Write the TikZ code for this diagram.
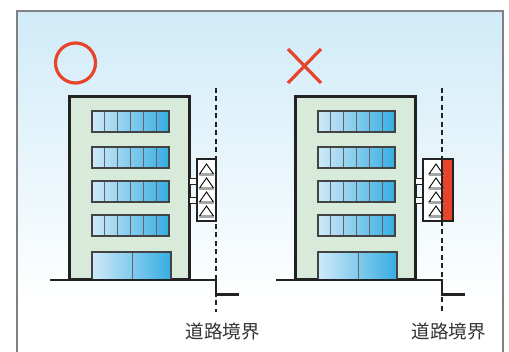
\documentclass[tikz,border=0pt]{standalone}
\usepackage{fontspec}
\newfontfamily\jpfont{Noto Sans CJK JP}
\definecolor{skytop}{HTML}{D0EBF8}
\definecolor{framegray}{HTML}{808080}
\definecolor{wallgreen}{HTML}{D8EBDB}
\definecolor{inkdark}{HTML}{222222}
\definecolor{winlight}{HTML}{CFE9F9}
\definecolor{windeep}{HTML}{36ADE2}
\definecolor{markred}{HTML}{E8432B}
\definecolor{labelgray}{HTML}{333333}
\tikzset{
  wall/.style={fill=wallgreen, draw=inkdark, line width=3pt, line join=miter},
  pane/.style={draw=inkdark!85, line width=1.6pt},
  panediv/.style={draw=inkdark!70, line width=1pt},
  ground/.style={draw=inkdark, line width=2.6pt, line join=miter},
  boundary/.style={draw=inkdark, line width=1.4pt, dash pattern=on 5pt off 3.5pt},
  signbox/.style={fill=white, draw=inkdark, line width=1.3pt},
  bracket/.style={fill=white, draw=inkdark, line width=1pt},
  arrowmark/.style={draw=black, line width=0.9pt, line join=miter},
  markstroke/.style={draw=markred, line width=3.2pt},
  caption/.style={font=\jpfont\fontsize{18.5}{20}\selectfont, text=labelgray, inner sep=0pt},
  % one window band of six panes
  band/.pic={
    \shade[left color=winlight, right color=windeep] (0,0) rectangle (77,21);
    \foreach \k in {1,...,5} \draw[panediv] ({\k*77/6},0) -- ({\k*77/6},21);
    \draw[pane] (0,0) rectangle (77,21);
  },
  % the building with its road-side sign frame
  building/.pic={
    \draw[wall] (69,97) rectangle (189,280);
    \foreach \yy in {111,147,181,215} \pic at (92,\yy) {band};
    \shade[left color=winlight, right color=windeep] (92,252) rectangle (171,280);
    \draw[panediv] (132,252) -- (132,280);
    \draw[pane] (92,280) -- (92,252) -- (171,252) -- (171,280);
    \draw[bracket] (189,179) rectangle (197,185);
    \draw[bracket] (189,198) rectangle (197,204);
    \draw[signbox] (197,159) rectangle (216,221);
  },
  % four triangle marks on a sign, apex x given by #1
  marks/.pic={
    \foreach \ty in {164,178,192,206}{
      \draw[gray!70, line width=1.2pt] (-7.5,\ty+11.2) -- (7.5,\ty+11.2);
      \draw[arrowmark] (-7,\ty+10) -- (0,\ty) -- (7,\ty+10) -- cycle;
    }
  }
}
\begin{document}
\begin{tikzpicture}[x=1pt,y=-1pt]
\useasboundingbox (0,0) rectangle (509,352);
% sky backdrop and frame
\shade[top color=skytop, bottom color=white] (17,11) rectangle (503,305);
\draw[framegray, line width=1.4pt] (17,352) -- (17,11) -- (503,11) -- (503,352);

% verdicts
\draw[markstroke] (75.5,63) circle (20);
\draw[markstroke] (288,49) -- (321,83);
\draw[markstroke] (321,49) -- (288,83);

% left: sign kept within the lot
\pic at (0,0) {building};
\pic at (206.5,0) {marks};
\draw[boundary] (216,88) -- (216,312);
\draw[ground] (50,280) -- (216,280) -- (216,294.5) -- (239,294.5);
\node[caption] (lblA) at (222.5,332) {道路境界};

% right: sign face protruding over the boundary
\pic at (226,0) {building};
\fill[markred] (442,159) rectangle (453,221);
\draw[inkdark, line width=1.3pt] (442,159) rectangle (453,221);
\pic at (436,0) {marks};
\draw[inkdark, line width=2.2pt] (442,159) -- (442,221);
\draw[boundary] (442,88) -- (442,159);
\draw[boundary] (442,221) -- (442,312);
\draw[ground] (276,280) -- (442,280) -- (442,294.5) -- (465,294.5);
\node[caption] (lblB) at (448.5,332) {道路境界};
\end{tikzpicture}
\end{document}
